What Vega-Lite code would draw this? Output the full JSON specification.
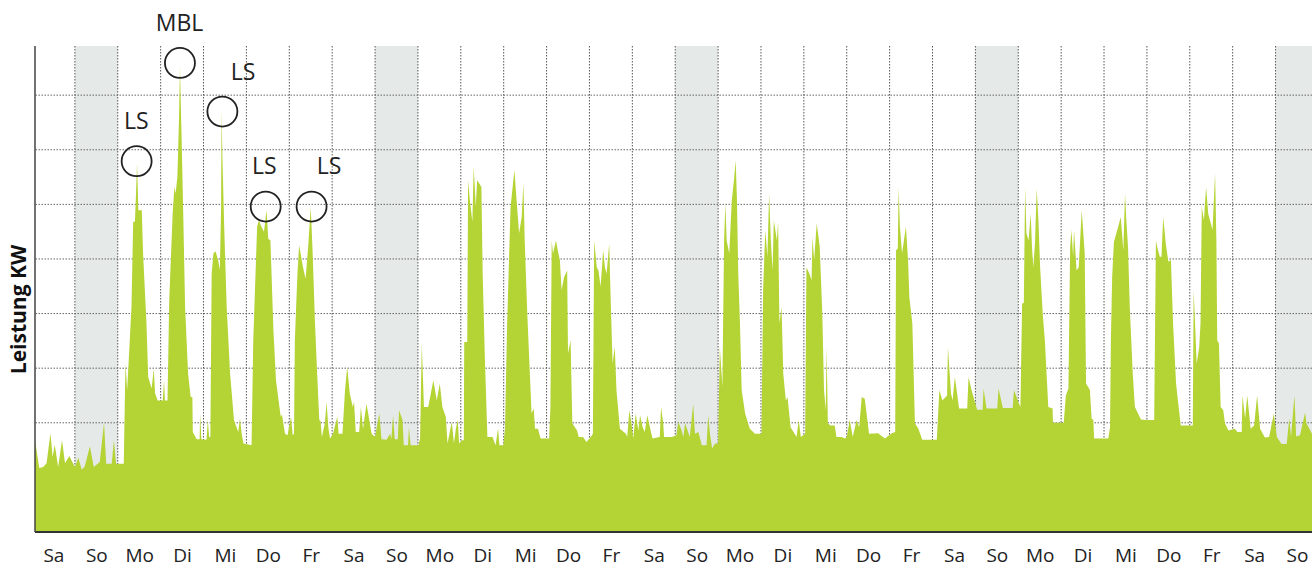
{
  "$schema": "https://vega.github.io/schema/vega-lite/v6.json",
  "width": 1277,
  "height": 486,
  "autosize": {"type": "none"},
  "padding": {"left": 35, "top": 46, "right": 0, "bottom": 34},
  "background": "white",
  "config": {"view": {"stroke": null}, "font": "Open Sans"},
  "datasets": {
    "weekend": [{"s": 1, "e": 2}, {"s": 8, "e": 9}, {"s": 15, "e": 16}, {"s": 22, "e": 23}, {"s": 29, "e": 30}],
    "vgrid": [{"day":1},{"day":2},{"day":3},{"day":4},{"day":5},{"day":6},{"day":7},{"day":8},{"day":9},{"day":10},{"day":11},{"day":12},{"day":13},{"day":14},{"day":15},{"day":16},{"day":17},{"day":18},{"day":19},{"day":20},{"day":21},{"day":22},{"day":23},{"day":24},{"day":25},{"day":26},{"day":27},{"day":28},{"day":29}],
    "hgrid": [{"kw":1},{"kw":2},{"kw":3},{"kw":4},{"kw":5},{"kw":6},{"kw":7},{"kw":8}],
    "notes": [
      {"day": 2.44, "kw": 6.79, "lday": 2.43, "lkw": 7.50, "label": "LS"},
      {"day": 3.45, "kw": 8.59, "lday": 3.44, "lkw": 9.30, "label": "MBL"},
      {"day": 4.44, "kw": 7.70, "lday": 4.92, "lkw": 8.40, "label": "LS"},
      {"day": 5.45, "kw": 5.96, "lday": 5.42, "lkw": 6.68, "label": "LS"},
      {"day": 6.52, "kw": 5.96, "lday": 6.93, "lkw": 6.68, "label": "LS"}
    ],
    "power": [
{"day":0.07,"kw":1.68},{"day":0.17,"kw":1.17},{"day":0.26,"kw":1.19},{"day":0.34,"kw":1.26},{"day":0.43,"kw":1.81},{"day":0.48,"kw":1.37},{"day":0.53,"kw":1.60},{"day":0.61,"kw":1.19},{"day":0.70,"kw":1.68},{"day":0.77,"kw":1.26},{"day":0.87,"kw":1.39},{"day":1.00,"kw":1.19},{"day":1.08,"kw":1.36},{"day":1.16,"kw":1.14},{"day":1.23,"kw":1.20},{"day":1.35,"kw":1.57},{"day":1.44,"kw":1.19},{"day":1.58,"kw":1.28},{"day":1.68,"kw":2.00},{"day":1.73,"kw":1.25},{"day":1.86,"kw":1.25},{"day":1.91,"kw":1.68},{"day":1.96,"kw":1.25},{"day":2.14,"kw":1.25},
{"day":2.18,"kw":3.08},{"day":2.22,"kw":2.60},{"day":2.32,"kw":4.12},{"day":2.36,"kw":5.68},{"day":2.40,"kw":5.68},{"day":2.42,"kw":6.08},{"day":2.45,"kw":6.75},{"day":2.48,"kw":5.89},{"day":2.56,"kw":5.89},{"day":2.59,"kw":5.10},{"day":2.67,"kw":3.82},{"day":2.71,"kw":2.84},{"day":2.79,"kw":2.63},{"day":2.84,"kw":2.99},{"day":2.87,"kw":2.54},{"day":2.93,"kw":2.41},{"day":3.05,"kw":2.41},{"day":3.08,"kw":2.78},{"day":3.10,"kw":2.41},{"day":3.16,"kw":2.41},
{"day":3.20,"kw":4.24},{"day":3.28,"kw":5.83},{"day":3.32,"kw":6.32},{"day":3.35,"kw":6.20},{"day":3.39,"kw":6.50},{"day":3.43,"kw":7.60},{"day":3.45,"kw":8.52},{"day":3.49,"kw":7.18},{"day":3.53,"kw":5.71},{"day":3.57,"kw":4.12},{"day":3.64,"kw":2.90},{"day":3.70,"kw":2.47},{"day":3.74,"kw":2.47},{"day":3.75,"kw":1.83},{"day":3.84,"kw":1.70},{"day":3.91,"kw":1.70},{"day":3.92,"kw":2.17},{"day":3.95,"kw":1.70},{"day":4.07,"kw":1.69},{"day":4.10,"kw":2.05},{"day":4.13,"kw":1.74},{"day":4.16,"kw":1.74},
{"day":4.19,"kw":4.73},{"day":4.23,"kw":5.10},{"day":4.28,"kw":5.14},{"day":4.34,"kw":4.98},{"day":4.38,"kw":4.80},{"day":4.41,"kw":5.95},{"day":4.42,"kw":7.72},{"day":4.44,"kw":6.87},{"day":4.48,"kw":5.65},{"day":4.54,"kw":4.12},{"day":4.62,"kw":2.90},{"day":4.71,"kw":2.05},{"day":4.81,"kw":1.83},{"day":4.85,"kw":2.08},{"day":4.89,"kw":1.80},{"day":4.93,"kw":1.62},{"day":5.12,"kw":1.59},
{"day":5.16,"kw":3.51},{"day":5.20,"kw":4.43},{"day":5.25,"kw":5.59},{"day":5.29,"kw":5.71},{"day":5.35,"kw":5.59},{"day":5.41,"kw":5.50},{"day":5.47,"kw":5.89},{"day":5.51,"kw":5.37},{"day":5.56,"kw":5.34},{"day":5.63,"kw":3.69},{"day":5.69,"kw":2.78},{"day":5.77,"kw":2.29},{"day":5.80,"kw":2.11},{"day":5.83,"kw":2.15},{"day":5.90,"kw":1.80},{"day":5.96,"kw":1.77},{"day":6.04,"kw":2.11},{"day":6.08,"kw":1.77},{"day":6.11,"kw":1.80},
{"day":6.13,"kw":3.51},{"day":6.19,"kw":4.73},{"day":6.23,"kw":5.25},{"day":6.32,"kw":4.85},{"day":6.38,"kw":4.64},{"day":6.44,"kw":5.22},{"day":6.50,"kw":5.95},{"day":6.54,"kw":5.22},{"day":6.60,"kw":3.82},{"day":6.65,"kw":2.90},{"day":6.70,"kw":2.05},{"day":6.73,"kw":2.03},{"day":6.76,"kw":1.74},{"day":6.83,"kw":1.99},{"day":6.87,"kw":2.38},{"day":6.91,"kw":1.92},{"day":6.95,"kw":1.71},{"day":7.02,"kw":1.80},{"day":7.12,"kw":2.11},{"day":7.15,"kw":1.80},{"day":7.24,"kw":1.80},
{"day":7.30,"kw":2.60},{"day":7.35,"kw":3.02},{"day":7.41,"kw":2.54},{"day":7.48,"kw":2.29},{"day":7.51,"kw":2.38},{"day":7.55,"kw":1.83},{"day":7.63,"kw":1.83},{"day":7.67,"kw":2.29},{"day":7.72,"kw":1.89},{"day":7.80,"kw":2.35},{"day":7.84,"kw":2.17},{"day":7.92,"kw":1.80},{"day":8.00,"kw":1.74},
{"day":8.10,"kw":2.17},{"day":8.15,"kw":1.70},{"day":8.27,"kw":1.69},{"day":8.35,"kw":1.80},{"day":8.38,"kw":1.70},{"day":8.42,"kw":2.14},{"day":8.46,"kw":1.70},{"day":8.53,"kw":1.70},{"day":8.56,"kw":2.23},{"day":8.64,"kw":2.05},{"day":8.67,"kw":1.59},{"day":8.77,"kw":1.59},{"day":8.79,"kw":1.92},{"day":8.83,"kw":1.59},{"day":9.01,"kw":1.59},{"day":9.05,"kw":1.71},
{"day":9.09,"kw":3.45},{"day":9.14,"kw":2.29},{"day":9.24,"kw":2.29},{"day":9.36,"kw":2.78},{"day":9.44,"kw":2.41},{"day":9.51,"kw":2.72},{"day":9.57,"kw":2.29},{"day":9.65,"kw":2.11},{"day":9.69,"kw":1.62},{"day":9.79,"kw":2.02},{"day":9.84,"kw":1.62},{"day":9.89,"kw":1.92},{"day":9.93,"kw":2.05},{"day":9.96,"kw":1.62},{"day":10.02,"kw":1.68},{"day":10.07,"kw":1.68},
{"day":10.08,"kw":3.48},{"day":10.15,"kw":3.48},{"day":10.17,"kw":6.44},{"day":10.21,"kw":6.08},{"day":10.27,"kw":5.68},{"day":10.30,"kw":6.69},{"day":10.35,"kw":5.95},{"day":10.38,"kw":6.44},{"day":10.43,"kw":6.38},{"day":10.48,"kw":6.32},{"day":10.51,"kw":4.73},{"day":10.56,"kw":3.21},{"day":10.62,"kw":1.74},{"day":10.74,"kw":1.74},{"day":10.81,"kw":1.59},{"day":10.87,"kw":1.89},{"day":10.90,"kw":1.59},{"day":10.99,"kw":1.59},{"day":11.03,"kw":1.89},
{"day":11.08,"kw":3.82},{"day":11.16,"kw":5.95},{"day":11.25,"kw":6.63},{"day":11.30,"kw":6.08},{"day":11.36,"kw":5.47},{"day":11.42,"kw":5.77},{"day":11.46,"kw":6.38},{"day":11.49,"kw":5.34},{"day":11.55,"kw":4.00},{"day":11.61,"kw":2.90},{"day":11.65,"kw":2.17},{"day":11.70,"kw":2.26},{"day":11.73,"kw":1.89},{"day":11.80,"kw":1.89},{"day":11.86,"kw":1.71},{"day":12.06,"kw":1.71},
{"day":12.09,"kw":2.29},{"day":12.12,"kw":5.34},{"day":12.15,"kw":5.10},{"day":12.22,"kw":5.34},{"day":12.26,"kw":5.16},{"day":12.31,"kw":4.98},{"day":12.35,"kw":4.43},{"day":12.41,"kw":4.67},{"day":12.48,"kw":4.79},{"day":12.50,"kw":3.27},{"day":12.56,"kw":3.51},{"day":12.60,"kw":1.99},{"day":12.71,"kw":1.86},{"day":12.75,"kw":1.74},{"day":12.85,"kw":1.74},{"day":12.93,"kw":1.65},{"day":13.03,"kw":1.74},{"day":13.08,"kw":1.80},
{"day":13.11,"kw":5.34},{"day":13.17,"kw":4.85},{"day":13.21,"kw":4.79},{"day":13.26,"kw":4.49},{"day":13.32,"kw":5.16},{"day":13.36,"kw":4.85},{"day":13.40,"kw":4.73},{"day":13.46,"kw":5.28},{"day":13.50,"kw":4.12},{"day":13.54,"kw":3.08},{"day":13.59,"kw":3.39},{"day":13.63,"kw":2.60},{"day":13.71,"kw":1.89},{"day":13.85,"kw":1.80},{"day":13.88,"kw":1.74},{"day":13.93,"kw":2.23},{"day":13.98,"kw":1.99},{"day":14.02,"kw":1.71},{"day":14.08,"kw":2.17},{"day":14.14,"kw":1.86},{"day":14.18,"kw":2.14},{"day":14.24,"kw":1.92},{"day":14.29,"kw":1.83},{"day":14.35,"kw":2.14},{"day":14.41,"kw":1.92},{"day":14.47,"kw":1.71},{"day":14.64,"kw":1.74},{"day":14.67,"kw":2.29},{"day":14.72,"kw":1.99},{"day":14.74,"kw":1.74},{"day":14.92,"kw":1.74},{"day":15.03,"kw":1.77},{"day":15.07,"kw":2.02},{"day":15.15,"kw":1.86},{"day":15.19,"kw":1.74},{"day":15.23,"kw":1.99},{"day":15.34,"kw":1.74},{"day":15.42,"kw":2.35},{"day":15.46,"kw":1.80},{"day":15.54,"kw":1.83},{"day":15.62,"kw":1.59},{"day":15.73,"kw":1.59},{"day":15.77,"kw":2.14},{"day":15.81,"kw":1.80},{"day":15.86,"kw":1.53},{"day":15.93,"kw":1.62},{"day":16.00,"kw":1.62},
{"day":16.04,"kw":3.39},{"day":16.10,"kw":2.66},{"day":16.14,"kw":5.34},{"day":16.17,"kw":6.02},{"day":16.20,"kw":5.34},{"day":16.26,"kw":5.10},{"day":16.32,"kw":6.08},{"day":16.37,"kw":6.44},{"day":16.41,"kw":6.81},{"day":16.44,"kw":6.08},{"day":16.47,"kw":4.73},{"day":16.51,"kw":3.82},{"day":16.55,"kw":2.60},{"day":16.63,"kw":2.17},{"day":16.74,"kw":1.89},{"day":16.86,"kw":1.80},{"day":17.01,"kw":1.80},
{"day":17.05,"kw":4.43},{"day":17.10,"kw":5.53},{"day":17.15,"kw":5.04},{"day":17.19,"kw":6.20},{"day":17.23,"kw":5.34},{"day":17.27,"kw":4.79},{"day":17.30,"kw":5.71},{"day":17.37,"kw":5.34},{"day":17.40,"kw":5.68},{"day":17.43,"kw":3.82},{"day":17.48,"kw":4.12},{"day":17.52,"kw":2.90},{"day":17.58,"kw":2.41},{"day":17.62,"kw":2.47},{"day":17.69,"kw":1.92},{"day":17.83,"kw":1.74},{"day":17.88,"kw":2.05},{"day":17.93,"kw":1.74},{"day":18.03,"kw":1.80},
{"day":18.06,"kw":4.85},{"day":18.13,"kw":4.73},{"day":18.18,"kw":4.61},{"day":18.20,"kw":5.40},{"day":18.24,"kw":4.98},{"day":18.30,"kw":5.65},{"day":18.37,"kw":5.22},{"day":18.43,"kw":4.00},{"day":18.47,"kw":2.60},{"day":18.51,"kw":2.23},{"day":18.53,"kw":3.39},{"day":18.56,"kw":1.99},{"day":18.62,"kw":1.95},{"day":18.72,"kw":1.95},{"day":18.76,"kw":1.74},{"day":18.88,"kw":1.74},{"day":18.96,"kw":1.71},{"day":19.00,"kw":1.74},{"day":19.07,"kw":2.05},{"day":19.14,"kw":1.74},{"day":19.23,"kw":2.05},{"day":19.29,"kw":1.92},{"day":19.35,"kw":2.47},{"day":19.42,"kw":2.44},{"day":19.52,"kw":1.80},{"day":19.73,"kw":1.81},{"day":19.89,"kw":1.71},{"day":20.05,"kw":1.81},{"day":20.13,"kw":1.83},
{"day":20.15,"kw":5.16},{"day":20.19,"kw":5.19},{"day":20.21,"kw":6.32},{"day":20.24,"kw":5.59},{"day":20.29,"kw":5.10},{"day":20.38,"kw":5.59},{"day":20.43,"kw":4.98},{"day":20.46,"kw":4.30},{"day":20.53,"kw":3.82},{"day":20.59,"kw":1.99},{"day":20.67,"kw":1.89},{"day":20.76,"kw":1.69},{"day":21.10,"kw":1.69},
{"day":21.16,"kw":2.60},{"day":21.23,"kw":2.41},{"day":21.34,"kw":2.50},{"day":21.36,"kw":3.39},{"day":21.43,"kw":2.54},{"day":21.47,"kw":2.41},{"day":21.52,"kw":2.84},{"day":21.58,"kw":2.50},{"day":21.62,"kw":2.26},{"day":21.81,"kw":2.26},{"day":21.84,"kw":2.84},{"day":21.91,"kw":2.60},{"day":22.04,"kw":2.24},{"day":22.17,"kw":2.24},{"day":22.19,"kw":2.63},{"day":22.26,"kw":2.26},{"day":22.51,"kw":2.26},{"day":22.54,"kw":2.63},{"day":22.64,"kw":2.27},{"day":22.87,"kw":2.27},{"day":22.90,"kw":2.60},{"day":22.97,"kw":2.45},{"day":23.05,"kw":2.29},
{"day":23.09,"kw":4.18},{"day":23.13,"kw":4.20},{"day":23.16,"kw":6.32},{"day":23.19,"kw":5.47},{"day":23.24,"kw":5.34},{"day":23.29,"kw":5.83},{"day":23.32,"kw":5.22},{"day":23.35,"kw":4.85},{"day":23.39,"kw":5.28},{"day":23.43,"kw":6.29},{"day":23.47,"kw":5.71},{"day":23.51,"kw":4.85},{"day":23.57,"kw":4.00},{"day":23.62,"kw":3.51},{"day":23.70,"kw":2.29},{"day":23.80,"kw":2.26},{"day":23.81,"kw":2.00},{"day":24.06,"kw":2.00},
{"day":24.11,"kw":2.50},{"day":24.17,"kw":2.63},{"day":24.21,"kw":5.22},{"day":24.24,"kw":5.53},{"day":24.28,"kw":5.04},{"day":24.30,"kw":5.53},{"day":24.36,"kw":4.79},{"day":24.41,"kw":4.85},{"day":24.48,"kw":5.89},{"day":24.55,"kw":5.10},{"day":24.58,"kw":2.72},{"day":24.67,"kw":2.60},{"day":24.71,"kw":2.08},{"day":24.75,"kw":2.05},{"day":24.77,"kw":1.71},{"day":25.10,"kw":1.71},{"day":25.14,"kw":1.92},
{"day":25.16,"kw":3.51},{"day":25.19,"kw":4.67},{"day":25.23,"kw":5.31},{"day":25.33,"kw":5.59},{"day":25.39,"kw":5.77},{"day":25.45,"kw":5.16},{"day":25.49,"kw":6.20},{"day":25.52,"kw":5.71},{"day":25.56,"kw":5.22},{"day":25.60,"kw":4.12},{"day":25.67,"kw":2.90},{"day":25.72,"kw":2.29},{"day":25.86,"kw":2.06},{"day":25.99,"kw":2.05},{"day":26.17,"kw":2.05},
{"day":26.21,"kw":5.34},{"day":26.24,"kw":5.22},{"day":26.30,"kw":5.04},{"day":26.34,"kw":5.04},{"day":26.38,"kw":5.77},{"day":26.44,"kw":5.28},{"day":26.50,"kw":4.95},{"day":26.56,"kw":4.98},{"day":26.61,"kw":3.82},{"day":26.68,"kw":2.72},{"day":26.74,"kw":2.29},{"day":26.79,"kw":1.95},{"day":27.07,"kw":1.95},
{"day":27.09,"kw":4.43},{"day":27.12,"kw":3.88},{"day":27.16,"kw":3.08},{"day":27.22,"kw":3.39},{"day":27.25,"kw":3.82},{"day":27.28,"kw":5.95},{"day":27.33,"kw":5.71},{"day":27.38,"kw":6.32},{"day":27.43,"kw":5.83},{"day":27.49,"kw":5.65},{"day":27.53,"kw":5.53},{"day":27.59,"kw":6.57},{"day":27.62,"kw":5.34},{"day":27.64,"kw":3.51},{"day":27.68,"kw":3.45},{"day":27.72,"kw":2.29},{"day":27.78,"kw":2.23},{"day":27.82,"kw":1.99},{"day":27.90,"kw":1.86},{"day":28.05,"kw":1.89},{"day":28.11,"kw":1.83},{"day":28.21,"kw":1.83},{"day":28.23,"kw":2.50},{"day":28.29,"kw":2.08},{"day":28.34,"kw":2.50},{"day":28.42,"kw":1.89},{"day":28.50,"kw":1.95},{"day":28.57,"kw":2.50},{"day":28.64,"kw":1.89},{"day":28.75,"kw":1.73},{"day":28.85,"kw":1.74},{"day":28.96,"kw":2.17},{"day":29.03,"kw":1.74},{"day":29.14,"kw":1.61},{"day":29.26,"kw":1.61},{"day":29.32,"kw":2.08},{"day":29.36,"kw":1.74},{"day":29.44,"kw":2.50},{"day":29.48,"kw":1.75},{"day":29.57,"kw":1.77},{"day":29.69,"kw":2.19},{"day":29.72,"kw":1.99},{"day":29.85,"kw":1.80}
    ]
  },
  "encoding": {
    "x": {"type": "quantitative", "scale": {"domain": [0.07, 29.85], "nice": false, "zero": false}},
    "y": {"type": "quantitative", "scale": {"domain": [0, 8.9], "nice": false, "zero": true}}
  },
  "layer": [
    {
      "data": {"name": "weekend"},
      "mark": {"type": "rect", "color": "#e5e9e8", "clip": true},
      "encoding": {
        "x": {"field": "s", "type": "quantitative"},
        "x2": {"field": "e"}
      }
    },
    {
      "data": {"name": "hgrid"},
      "mark": {"type": "rule", "color": "#666", "strokeWidth": 1, "strokeDash": [1.5, 1.5]},
      "encoding": {"y": {"field": "kw", "type": "quantitative"}}
    },
    {
      "data": {"name": "vgrid"},
      "mark": {"type": "rule", "color": "#555", "strokeWidth": 1, "strokeDash": [1.5, 1.5]},
      "encoding": {"x": {"field": "day", "type": "quantitative"}}
    },
    {
      "data": {"name": "power"},
      "mark": {"type": "area", "color": "#b4d334", "clip": true, "interpolate": "linear"},
      "encoding": {
        "x": {
          "field": "day", "type": "quantitative",
          "axis": {
            "values": [0.5,1.5,2.5,3.5,4.5,5.5,6.5,7.5,8.5,9.5,10.5,11.5,12.5,13.5,14.5,15.5,16.5,17.5,18.5,19.5,20.5,21.5,22.5,23.5,24.5,25.5,26.5,27.5,28.5,29.5],
            "grid": false, "ticks": false, "tickSize": 0, "domain": false, "title": null,
            "labelExpr": "['Sa','So','Mo','Di','Mi','Do','Fr'][floor(datum.value) % 7]",
            "labelPadding": 29, "labelBaseline": "alphabetic",
            "labelFont": "Open Sans", "labelFontSize": 19, "labelColor": "#222",
            "labelOverlap": false, "labelBound": false, "labelFlush": false
          }
        },
        "y": {
          "field": "kw", "type": "quantitative",
          "axis": {
            "grid": false, "ticks": false, "labels": false, "domain": false,
            "title": "Leistung KW", "titleFont": "Open Sans", "titleFontSize": 21, "titleFontWeight": "bold",
            "titleColor": "#111", "titleX": -10, "titleY": 263, "titleAngle": 270,
            "titleBaseline": "alphabetic", "titleAlign": "center"
          }
        }
      }
    },
    {
      "data": {"values": [{}]},
      "mark": {"type": "rule", "color": "#333", "strokeWidth": 2},
      "encoding": {"y": {"datum": 0}}
    },
    {
      "data": {"values": [{}]},
      "mark": {"type": "rule", "color": "#444", "strokeWidth": 1.5},
      "encoding": {"x": {"datum": 0.07}}
    },
    {
      "data": {"name": "notes"},
      "mark": {"type": "point", "shape": "circle", "filled": false, "stroke": "#222", "strokeWidth": 1.8, "size": 900, "opacity": 1},
      "encoding": {
        "x": {"field": "day", "type": "quantitative"},
        "y": {"field": "kw", "type": "quantitative"}
      }
    },
    {
      "data": {"name": "notes"},
      "mark": {"type": "text", "font": "Open Sans", "fontSize": 23, "color": "#222", "align": "center", "baseline": "middle"},
      "encoding": {
        "x": {"field": "lday", "type": "quantitative"},
        "y": {"field": "lkw", "type": "quantitative"},
        "text": {"field": "label"}
      }
    }
  ]
}
